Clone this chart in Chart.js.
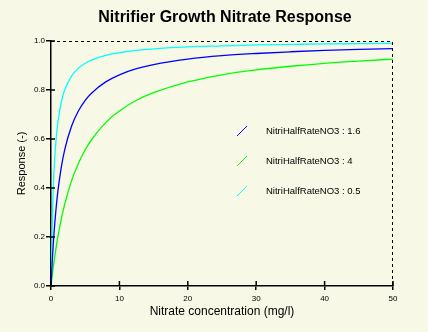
<!DOCTYPE html>
<html lang="en">
<head>
  <meta charset="UTF-8">
  <title>Nitrifier Growth Nitrate Response</title>
  <script src="https://cdn.jsdelivr.net/npm/chart.js"></script>
  <style>
    body { margin: 0; background: #f8f8e6; }
    .chart { width: 428px; height: 332px; }
  </style>
</head>
<body>
<div class="chart">
  <canvas id="myCanvas"></canvas>
</div>
<script>
  // nitrate concentration (mg/l)
  const concentration = [0, 0.25, 0.5, 0.75, 1, 1.5, 2, 3, 4, 5, 6, 8, 10, 12.5, 15, 20, 25, 30, 35, 40, 45, 50];

  const responseHalf16 = [0, 0.135, 0.238, 0.319, 0.385, 0.484, 0.556, 0.652, 0.714, 0.758, 0.789, 0.833, 0.862, 0.887, 0.904, 0.926, 0.940, 0.949, 0.956, 0.962, 0.966, 0.969];
  const responseHalf4  = [0, 0.059, 0.111, 0.158, 0.200, 0.273, 0.333, 0.429, 0.500, 0.556, 0.600, 0.667, 0.714, 0.758, 0.789, 0.833, 0.862, 0.882, 0.897, 0.909, 0.918, 0.926];
  const responseHalf05 = [0, 0.333, 0.500, 0.600, 0.667, 0.750, 0.800, 0.857, 0.889, 0.909, 0.923, 0.941, 0.952, 0.962, 0.968, 0.976, 0.980, 0.984, 0.986, 0.988, 0.989, 0.990];

  const seriesLabels = ["NitriHalfRateNO3 : 1.6", "NitriHalfRateNO3 : 4", "NitriHalfRateNO3 : 0.5"];
  const xTicks = [0, 10, 20, 30, 40, 50];
  const yTicks = [0, 0.2, 0.4, 0.6, 0.8, 1.0];

  const FONT = "'Liberation Sans', Arial, sans-serif";

  function points(ys) {
    return concentration.map((x, i) => ({ x: x, y: ys[i] }));
  }

  // title, dashed frame, ticks crossing the axes and the little legend
  const decor = {
    id: 'decor',
    afterDraw(chart) {
      const { ctx, chartArea: a, scales: { x, y } } = chart;
      ctx.save();

      ctx.fillStyle = '#000';
      ctx.font = "bold 16px " + FONT;
      ctx.textAlign = 'center';
      ctx.textBaseline = 'middle';
      ctx.fillText("Nitrifier Growth Nitrate Response", 225, 18);

      ctx.strokeStyle = '#000';
      ctx.lineWidth = 1;
      ctx.setLineDash([3, 3]);
      ctx.beginPath();
      ctx.moveTo(a.left, a.top + 0.5);
      ctx.lineTo(a.right - 0.5, a.top + 0.5);
      ctx.lineTo(a.right - 0.5, a.bottom);
      ctx.stroke();
      ctx.setLineDash([]);

      ctx.lineWidth = 1.5;
      ctx.beginPath();
      xTicks.forEach(v => {
        const px = x.getPixelForValue(v);
        ctx.moveTo(px, a.bottom);
        ctx.lineTo(px, a.bottom - 5);
      });
      yTicks.forEach(v => {
        const py = y.getPixelForValue(v);
        ctx.moveTo(a.left, py);
        ctx.lineTo(a.left + 4, py);
      });
      ctx.stroke();

      ctx.font = "9.5px " + FONT;
      ctx.textAlign = 'left';
      chart.data.datasets.forEach((ds, i) => {
        const cy = a.top + 90 + i * 30;
        ctx.strokeStyle = ds.borderColor;
        ctx.lineWidth = 1;
        ctx.beginPath();
        ctx.moveTo(a.left + 186, cy + 5);
        ctx.lineTo(a.left + 196, cy - 5);
        ctx.stroke();
        ctx.fillText(ds.label, a.left + 215, cy);
      });
      ctx.restore();
    }
  };

  new Chart(document.getElementById("myCanvas"), {
    type: "line",
    data: {
      datasets: [
        { label: seriesLabels[0], data: points(responseHalf16), borderColor: '#0000ff' },
        { label: seriesLabels[1], data: points(responseHalf4), borderColor: '#00ff00' },
        { label: seriesLabels[2], data: points(responseHalf05), borderColor: '#00ffff' }
      ]
    },
    options: {
      responsive: true,
      maintainAspectRatio: false,
      animation: false,
      events: [],
      elements: {
        line: { borderWidth: 1.3, tension: 0.4, cubicInterpolationMode: 'monotone', fill: false },
        point: { radius: 0 }
      },
      layout: { padding: { top: 41, right: 35, left: 0, bottom: 0 } },
      plugins: {
        legend: { display: false },
        tooltip: { enabled: false },
        title: { display: false }
      },
      scales: {
        x: {
          type: 'linear',
          min: 0,
          max: 50,
          afterBuildTicks: s => { s.ticks = xTicks.map(v => ({ value: v })); },
          afterFit: s => { s.height = 46; },
          grid: { drawOnChartArea: false, color: '#000', lineWidth: 1.5, tickLength: 4 },
          border: { color: '#000', width: 1.5 },
          ticks: { color: '#000', padding: 4, maxRotation: 0, font: { family: FONT, size: 8 } },
          title: {
            display: true,
            text: "Nitrate concentration (mg/l)",
            color: '#000',
            font: { family: FONT, size: 12 },
            padding: { top: 0, bottom: 13 }
          }
        },
        y: {
          min: 0,
          max: 1,
          afterBuildTicks: s => { s.ticks = yTicks.map(v => ({ value: v })); },
          afterFit: s => { s.width = 51; },
          grid: { drawOnChartArea: false, color: '#000', lineWidth: 1.5, tickLength: 5 },
          border: { color: '#000', width: 1.5 },
          ticks: {
            color: '#000',
            padding: 1,
            font: { family: FONT, size: 8 },
            callback: v => v.toFixed(1)
          },
          title: {
            display: true,
            text: "Response (-)",
            color: '#000',
            font: { family: FONT, size: 11 },
            padding: { top: 15, bottom: 0 }
          }
        }
      }
    },
    plugins: [decor]
  });
</script>
</body>
</html>
